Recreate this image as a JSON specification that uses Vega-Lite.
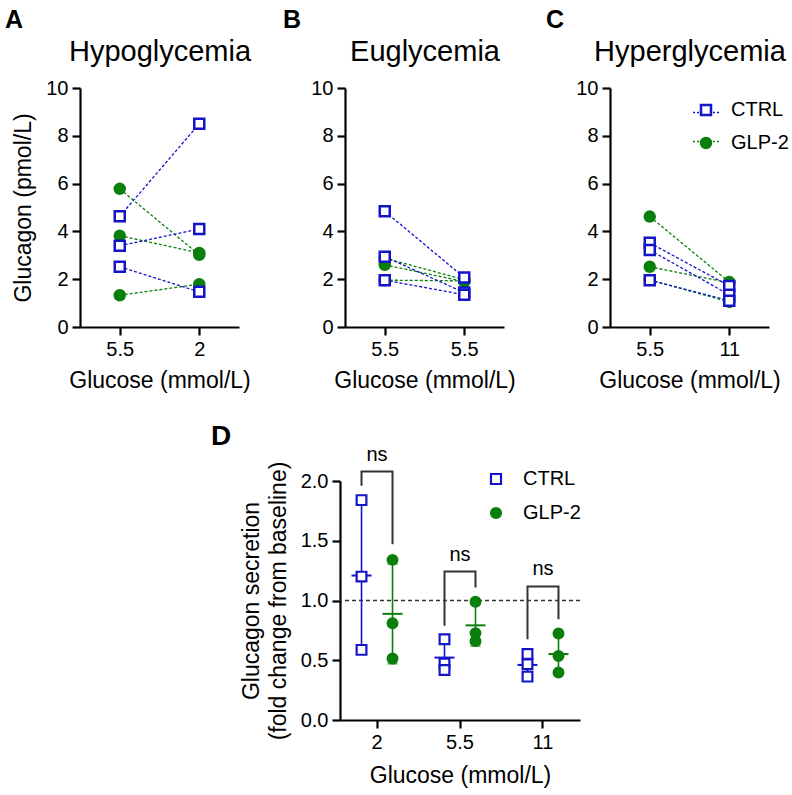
{
  "$schema": "https://vega.github.io/schema/vega-lite/v6.json",
  "background": "white",
  "padding": {"left": 5, "top": 8, "right": 2, "bottom": 5},
  "spacing": 30,
  "resolve": {"scale": {"color": "independent", "fill": "independent", "stroke": "independent", "shape": "independent"}},
  "datasets": {
    "glucagon": [
      {"panel": "A", "group": "GLP-2", "subj": "A4", "step": "base", "glucagon": 5.78},
      {"panel": "A", "group": "GLP-2", "subj": "A4", "step": "test", "glucagon": 3.02},
      {"panel": "A", "group": "GLP-2", "subj": "A5", "step": "base", "glucagon": 3.82},
      {"panel": "A", "group": "GLP-2", "subj": "A5", "step": "test", "glucagon": 3.10},
      {"panel": "A", "group": "GLP-2", "subj": "A6", "step": "base", "glucagon": 1.33},
      {"panel": "A", "group": "GLP-2", "subj": "A6", "step": "test", "glucagon": 1.79},
      {"panel": "A", "group": "CTRL", "subj": "A1", "step": "base", "glucagon": 4.63},
      {"panel": "A", "group": "CTRL", "subj": "A1", "step": "test", "glucagon": 8.50},
      {"panel": "A", "group": "CTRL", "subj": "A2", "step": "base", "glucagon": 3.40},
      {"panel": "A", "group": "CTRL", "subj": "A2", "step": "test", "glucagon": 4.10},
      {"panel": "A", "group": "CTRL", "subj": "A3", "step": "base", "glucagon": 2.52},
      {"panel": "A", "group": "CTRL", "subj": "A3", "step": "test", "glucagon": 1.47},
      {"panel": "B", "group": "GLP-2", "subj": "B4", "step": "base", "glucagon": 2.88},
      {"panel": "B", "group": "GLP-2", "subj": "B4", "step": "test", "glucagon": 1.98},
      {"panel": "B", "group": "GLP-2", "subj": "B5", "step": "base", "glucagon": 2.60},
      {"panel": "B", "group": "GLP-2", "subj": "B5", "step": "test", "glucagon": 1.90},
      {"panel": "B", "group": "GLP-2", "subj": "B6", "step": "base", "glucagon": 1.96},
      {"panel": "B", "group": "GLP-2", "subj": "B6", "step": "test", "glucagon": 1.93},
      {"panel": "B", "group": "CTRL", "subj": "B1", "step": "base", "glucagon": 4.84},
      {"panel": "B", "group": "CTRL", "subj": "B1", "step": "test", "glucagon": 2.07},
      {"panel": "B", "group": "CTRL", "subj": "B2", "step": "base", "glucagon": 2.94},
      {"panel": "B", "group": "CTRL", "subj": "B2", "step": "test", "glucagon": 1.44},
      {"panel": "B", "group": "CTRL", "subj": "B3", "step": "base", "glucagon": 1.96},
      {"panel": "B", "group": "CTRL", "subj": "B3", "step": "test", "glucagon": 1.35},
      {"panel": "C", "group": "GLP-2", "subj": "C4", "step": "base", "glucagon": 4.62},
      {"panel": "C", "group": "GLP-2", "subj": "C4", "step": "test", "glucagon": 1.88},
      {"panel": "C", "group": "GLP-2", "subj": "C5", "step": "base", "glucagon": 2.52},
      {"panel": "C", "group": "GLP-2", "subj": "C5", "step": "test", "glucagon": 1.85},
      {"panel": "C", "group": "GLP-2", "subj": "C6", "step": "base", "glucagon": 1.97},
      {"panel": "C", "group": "GLP-2", "subj": "C6", "step": "test", "glucagon": 1.05},
      {"panel": "C", "group": "CTRL", "subj": "C1", "step": "base", "glucagon": 3.52},
      {"panel": "C", "group": "CTRL", "subj": "C1", "step": "test", "glucagon": 1.72},
      {"panel": "C", "group": "CTRL", "subj": "C2", "step": "base", "glucagon": 3.22},
      {"panel": "C", "group": "CTRL", "subj": "C2", "step": "test", "glucagon": 1.35},
      {"panel": "C", "group": "CTRL", "subj": "C3", "step": "base", "glucagon": 1.96},
      {"panel": "C", "group": "CTRL", "subj": "C3", "step": "test", "glucagon": 1.10}
    ],
    "fold": [
      {"glucose": "2", "group": "CTRL", "fold": 1.84},
      {"glucose": "2", "group": "CTRL", "fold": 1.20},
      {"glucose": "2", "group": "CTRL", "fold": 0.587},
      {"glucose": "2", "group": "GLP-2", "fold": 1.34},
      {"glucose": "2", "group": "GLP-2", "fold": 0.81},
      {"glucose": "2", "group": "GLP-2", "fold": 0.515},
      {"glucose": "5.5", "group": "CTRL", "fold": 0.676},
      {"glucose": "5.5", "group": "CTRL", "fold": 0.472},
      {"glucose": "5.5", "group": "CTRL", "fold": 0.419},
      {"glucose": "5.5", "group": "GLP-2", "fold": 0.989},
      {"glucose": "5.5", "group": "GLP-2", "fold": 0.66},
      {"glucose": "5.5", "group": "GLP-2", "fold": 0.727},
      {"glucose": "11", "group": "CTRL", "fold": 0.553},
      {"glucose": "11", "group": "CTRL", "fold": 0.467},
      {"glucose": "11", "group": "CTRL", "fold": 0.363},
      {"glucose": "11", "group": "GLP-2", "fold": 0.724},
      {"glucose": "11", "group": "GLP-2", "fold": 0.536},
      {"glucose": "11", "group": "GLP-2", "fold": 0.397}
    ],
    "brackets": [
      {"glucose": "2", "group": "CTRL", "ord": 1, "val": 1.96},
      {"glucose": "2", "group": "CTRL", "ord": 2, "val": 2.08},
      {"glucose": "2", "group": "GLP-2", "ord": 3, "val": 2.08},
      {"glucose": "2", "group": "GLP-2", "ord": 4, "val": 1.47},
      {"glucose": "5.5", "group": "CTRL", "ord": 1, "val": 0.788},
      {"glucose": "5.5", "group": "CTRL", "ord": 2, "val": 1.243},
      {"glucose": "5.5", "group": "GLP-2", "ord": 3, "val": 1.243},
      {"glucose": "5.5", "group": "GLP-2", "ord": 4, "val": 1.109},
      {"glucose": "11", "group": "CTRL", "ord": 1, "val": 0.676},
      {"glucose": "11", "group": "CTRL", "ord": 2, "val": 1.117},
      {"glucose": "11", "group": "GLP-2", "ord": 3, "val": 1.117},
      {"glucose": "11", "group": "GLP-2", "ord": 4, "val": 0.844}
    ],
    "ns": [
      {"glucose": "2", "label": "ns", "val": 2.22},
      {"glucose": "5.5", "label": "ns", "val": 1.38},
      {"glucose": "11", "label": "ns", "val": 1.26}
    ]
  },
  "vconcat": [
    {
      "hconcat": [
        {
          "width": 159, "height": 239,
          "title": {"text": "A", "anchor": "start", "frame": "group", "dx": -75, "fontSize": 25, "fontWeight": "bold", "offset": 4},
          "data": {"name": "glucagon"},
          "transform": [{"filter": "datum.panel == 'A'"}],
          "resolve": {"axis": {"x": "independent"}},
          "layer": [
            {
              "mark": {"type": "line", "strokeDash": [3, 2], "strokeWidth": 1.3},
              "encoding": {
                "x": {"field": "step", "type": "nominal", "scale": {"type": "point", "domain": ["base", "test"], "padding": 0.5},
                      "axis": {"orient": "top", "title": "Hypoglycemia", "titleFontSize": 29, "domain": false, "ticks": false, "labels": false, "titlePadding": 22}},
                "y": {"field": "glucagon", "type": "quantitative", "scale": {"domain": [0, 10], "nice": false},
                      "axis": {"values": [0, 2, 4, 6, 8, 10], "title": "Glucagon (pmol/L)"}},
                "color": {"field": "group", "type": "nominal", "scale": {"range": ["#1414C8", "#0B7F0B"]}, "legend": null},
                "detail": {"field": "subj"}
              }
            },
            {
              "mark": {"type": "point", "filled": true, "size": 100, "strokeWidth": 2.5, "opacity": 1},
              "encoding": {
                "x": {"field": "step", "type": "nominal", "axis": {"orient": "bottom", "title": "Glucose (mmol/L)", "labelAngle": 0, "labelExpr": "datum.value == 'base' ? '5.5' : '2'"}},
                "y": {"field": "glucagon", "type": "quantitative"},
                "shape": {"field": "group", "type": "nominal", "scale": {"domain": ["CTRL", "GLP-2"], "range": ["square", "circle"]}, "legend": null},
                "fill": {"field": "group", "type": "nominal", "scale": {"domain": ["CTRL", "GLP-2"], "range": ["white", "#0B7F0B"]}, "legend": null},
                "stroke": {"field": "group", "type": "nominal", "scale": {"domain": ["CTRL", "GLP-2"], "range": ["#1414C8", "#0B7F0B"]}, "legend": null}
              }
            }
          ]
        },
        {
          "width": 159, "height": 239,
          "title": {"text": "B", "anchor": "start", "frame": "group", "dx": -62, "fontSize": 25, "fontWeight": "bold", "offset": 4},
          "data": {"name": "glucagon"},
          "transform": [{"filter": "datum.panel == 'B'"}],
          "resolve": {"axis": {"x": "independent"}},
          "layer": [
            {
              "mark": {"type": "line", "strokeDash": [3, 2], "strokeWidth": 1.3},
              "encoding": {
                "x": {"field": "step", "type": "nominal", "scale": {"type": "point", "domain": ["base", "test"], "padding": 0.5},
                      "axis": {"orient": "top", "title": "Euglycemia", "titleFontSize": 29, "domain": false, "ticks": false, "labels": false, "titlePadding": 22}},
                "y": {"field": "glucagon", "type": "quantitative", "scale": {"domain": [0, 10], "nice": false},
                      "axis": {"values": [0, 2, 4, 6, 8, 10], "title": null}},
                "color": {"field": "group", "type": "nominal", "scale": {"range": ["#1414C8", "#0B7F0B"]}, "legend": null},
                "detail": {"field": "subj"}
              }
            },
            {
              "mark": {"type": "point", "filled": true, "size": 100, "strokeWidth": 2.5, "opacity": 1},
              "encoding": {
                "x": {"field": "step", "type": "nominal", "axis": {"orient": "bottom", "title": "Glucose (mmol/L)", "labelAngle": 0, "labelExpr": "'5.5'"}},
                "y": {"field": "glucagon", "type": "quantitative"},
                "shape": {"field": "group", "type": "nominal", "scale": {"domain": ["CTRL", "GLP-2"], "range": ["square", "circle"]}, "legend": null},
                "fill": {"field": "group", "type": "nominal", "scale": {"domain": ["CTRL", "GLP-2"], "range": ["white", "#0B7F0B"]}, "legend": null},
                "stroke": {"field": "group", "type": "nominal", "scale": {"domain": ["CTRL", "GLP-2"], "range": ["#1414C8", "#0B7F0B"]}, "legend": null}
              }
            }
          ]
        },
        {
          "width": 159, "height": 239,
          "title": {"text": "C", "anchor": "start", "frame": "group", "dx": -64, "fontSize": 25, "fontWeight": "bold", "offset": 4},
          "data": {"name": "glucagon"},
          "transform": [{"filter": "datum.panel == 'C'"}],
          "resolve": {"axis": {"x": "independent"}},
          "layer": [
            {
              "mark": {"type": "line", "strokeDash": [3, 2], "strokeWidth": 1.3},
              "encoding": {
                "x": {"field": "step", "type": "nominal", "scale": {"type": "point", "domain": ["base", "test"], "padding": 0.5},
                      "axis": {"orient": "top", "title": "Hyperglycemia", "titleFontSize": 29, "domain": false, "ticks": false, "labels": false, "titlePadding": 22}},
                "y": {"field": "glucagon", "type": "quantitative", "scale": {"domain": [0, 10], "nice": false},
                      "axis": {"values": [0, 2, 4, 6, 8, 10], "title": null}},
                "color": {"field": "group", "type": "nominal", "scale": {"range": ["#1414C8", "#0B7F0B"]},
                          "legend": {"orient": "none", "legendX": 82, "legendY": 10, "title": null, "symbolType": "stroke", "symbolDash": [2, 2], "symbolSize": 729, "symbolStrokeWidth": 1.5, "labelExpr": "''", "labelOffset": 8, "rowPadding": 4}},
                "detail": {"field": "subj"}
              }
            },
            {
              "mark": {"type": "point", "filled": true, "size": 100, "strokeWidth": 2.5, "opacity": 1},
              "encoding": {
                "x": {"field": "step", "type": "nominal", "axis": {"orient": "bottom", "title": "Glucose (mmol/L)", "labelAngle": 0, "labelExpr": "datum.value == 'base' ? '5.5' : '11'"}},
                "y": {"field": "glucagon", "type": "quantitative"},
                "shape": {"field": "group", "type": "nominal", "scale": {"domain": ["CTRL", "GLP-2"], "range": ["square", "circle"]},
                          "legend": {"orient": "none", "legendX": 86, "legendY": 12, "title": null, "symbolSize": 100, "symbolStrokeWidth": 2.5, "labelOffset": 15, "rowPadding": 13}},
                "fill": {"field": "group", "type": "nominal", "scale": {"domain": ["CTRL", "GLP-2"], "range": ["white", "#0B7F0B"]},
                         "legend": {"orient": "none", "legendX": 86, "legendY": 12, "title": null, "symbolSize": 100, "symbolStrokeWidth": 2.5, "labelOffset": 15, "rowPadding": 13}},
                "stroke": {"field": "group", "type": "nominal", "scale": {"domain": ["CTRL", "GLP-2"], "range": ["#1414C8", "#0B7F0B"]},
                           "legend": {"orient": "none", "legendX": 86, "legendY": 12, "title": null, "symbolSize": 100, "symbolStrokeWidth": 2.5, "labelOffset": 15, "rowPadding": 13}}
              }
            }
          ]
        }
      ],
      "bounds": "flush",
      "spacing": 106,
      "resolve": {"scale": {"color": "independent", "fill": "independent", "stroke": "independent", "shape": "independent"}}
    },
    {
      "hconcat": [
        {
          "width": 157, "height": 239,
          "data": {"values": []},
          "mark": "point"
        },
        {
          "width": 240, "height": 239,
          "title": {"text": "D", "anchor": "start", "frame": "group", "dx": -129, "fontSize": 28, "fontWeight": "bold", "offset": -6},
          "layer": [
            {
              "data": {"values": [{}]},
              "mark": {"type": "rule", "strokeDash": [4, 3], "color": "#333333", "strokeWidth": 1.5},
              "encoding": {
                "y": {"datum": 1, "type": "quantitative"}
              }
            },
            {
              "data": {"name": "brackets"},
              "mark": {"type": "line", "color": "#333333", "strokeWidth": 2},
              "encoding": {
                "x": {"field": "glucose", "type": "nominal", "scale": {"domain": ["2", "5.5", "11"], "paddingInner": 0.253, "paddingOuter": 0.0725},
                      "axis": {"title": "Glucose (mmol/L)", "labelAngle": 0, "titlePadding": 12}},
                "xOffset": {"field": "group", "type": "nominal", "scale": {"domain": ["CTRL", "GLP-2"], "paddingInner": 0, "paddingOuter": 0}},
                "y": {"field": "val", "type": "quantitative"},
                "detail": {"field": "glucose"},
                "order": {"field": "ord", "type": "quantitative"}
              }
            },
            {
              "data": {"name": "ns"},
              "mark": {"type": "text", "fontSize": 20, "baseline": "middle", "color": "black"},
              "encoding": {
                "x": {"field": "glucose", "type": "nominal"},
                "y": {"field": "val", "type": "quantitative"},
                "text": {"field": "label"}
              }
            },
            {
              "data": {"name": "fold"},
              "mark": {"type": "errorbar", "extent": "stdev", "ticks": {"size": 10}, "thickness": 1.6},
              "encoding": {
                "x": {"field": "glucose", "type": "nominal"},
                "xOffset": {"field": "group", "type": "nominal"},
                "y": {"field": "fold", "type": "quantitative", "scale": {"domain": [0, 2], "nice": false},
                      "axis": {"values": [0, 0.5, 1, 1.5, 2], "format": ".1f", "title": ["Glucagon secretion", "(fold change from baseline)"], "titleLineHeight": 27}},
                "color": {"field": "group", "type": "nominal", "scale": {"range": ["#1414C8", "#0B7F0B"]}, "legend": null}
              }
            },
            {
              "data": {"name": "fold"},
              "mark": {"type": "tick", "size": 20, "thickness": 2, "orient": "horizontal"},
              "encoding": {
                "x": {"field": "glucose", "type": "nominal"},
                "xOffset": {"field": "group", "type": "nominal"},
                "y": {"aggregate": "mean", "field": "fold", "type": "quantitative"},
                "color": {"field": "group", "type": "nominal", "legend": null}
              }
            },
            {
              "data": {"name": "fold"},
              "mark": {"type": "point", "filled": true, "size": 95, "strokeWidth": 2.2, "opacity": 1},
              "encoding": {
                "x": {"field": "glucose", "type": "nominal"},
                "xOffset": {"field": "group", "type": "nominal"},
                "y": {"field": "fold", "type": "quantitative"},
                "shape": {"field": "group", "type": "nominal", "scale": {"domain": ["CTRL", "GLP-2"], "range": ["square", "circle"]},
                          "legend": {"orient": "none", "legendX": 146, "legendY": -12, "title": null, "symbolSize": 100, "symbolStrokeWidth": 2.2, "labelOffset": 17, "rowPadding": 14}},
                "fill": {"field": "group", "type": "nominal", "scale": {"domain": ["CTRL", "GLP-2"], "range": ["white", "#0B7F0B"]},
                         "legend": {"orient": "none", "legendX": 146, "legendY": -12, "title": null, "symbolSize": 100, "symbolStrokeWidth": 2.2, "labelOffset": 17, "rowPadding": 14}},
                "stroke": {"field": "group", "type": "nominal", "scale": {"domain": ["CTRL", "GLP-2"], "range": ["#1414C8", "#0B7F0B"]},
                           "legend": {"orient": "none", "legendX": 146, "legendY": -12, "title": null, "symbolSize": 100, "symbolStrokeWidth": 2.2, "labelOffset": 17, "rowPadding": 14}}
              }
            }
          ]
        }
      ],
      "bounds": "flush",
      "spacing": 103,
      "resolve": {"scale": {"color": "independent", "fill": "independent", "stroke": "independent", "shape": "independent"}}
    }
  ],
  "config": {
    "font": "Liberation Sans",
    "view": {"stroke": null},
    "axis": {
      "domainColor": "black", "domainWidth": 2.2, "tickColor": "black", "tickWidth": 2.2, "tickSize": 8,
      "labelFont": "Liberation Sans", "labelFontSize": 20, "labelColor": "black", "labelPadding": 4,
      "titleFont": "Liberation Sans", "titleFontSize": 23, "titleFontWeight": "normal", "titleColor": "black",
      "titlePadding": 10, "grid": false
    },
    "title": {"font": "Liberation Sans", "color": "black"},
    "legend": {"labelFont": "Liberation Sans", "labelFontSize": 20, "labelColor": "black", "padding": 0}
  }
}
